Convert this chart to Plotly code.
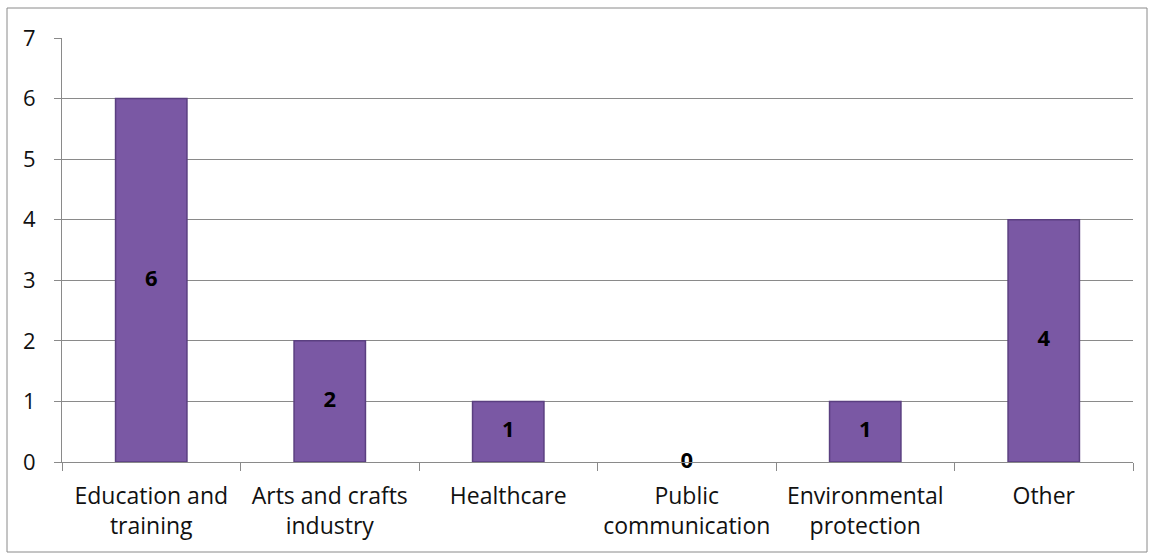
import plotly.graph_objects as go

categories = ["Education and<br>training", "Arts and crafts<br>industry", "Healthcare",
              "Public<br>communication", "Environmental<br>protection", "Other"]
values = [6, 2, 1, 0, 1, 4]
y_ticks = [0, 1, 2, 3, 4, 5, 6, 7]

FONT = "'Open Sans', Lato, sans-serif"

fig = go.Figure()
fig.add_trace(go.Bar(
    x=categories, y=values,
    marker=dict(color="#7A58A4",
                line=dict(color="#5A3F80", width=[1.5 if v > 0 else 0 for v in values])),
    width=0.4, hoverinfo="skip", showlegend=False,
))
fig.add_trace(go.Scatter(
    x=categories, y=[v / 2 for v in values], mode="text",
    text=[str(v) for v in values],
    textfont=dict(family=FONT, size=22, color="black", weight="bold"),
    showlegend=False, hoverinfo="skip", cliponaxis=False,
))

fig.update_layout(
    width=1154, height=557,
    margin=dict(l=62, r=21, t=38, b=95),
    paper_bgcolor="white", plot_bgcolor="white",
    font=dict(family=FONT, size=23, color="#111111"),
    bargap=0.6,
    xaxis=dict(
        type="category", tickson="boundaries", ticks="outside", ticklen=8,
        tickcolor="#8a8a8a", showline=True, linecolor="#8a8a8a", linewidth=1,
        showgrid=False, tickfont=dict(size=23), ticklabelstandoff=13,
    ),
    yaxis=dict(
        range=[0, 7], tickvals=y_ticks, ticks="outside", ticklen=7,
        tickcolor="#8a8a8a", showline=True, linecolor="#8a8a8a",
        showgrid=True, gridcolor="#8a8a8a", gridwidth=1, zeroline=False,
        tickfont=dict(size=22), ticklabelstandoff=14,
    ),
    shapes=[dict(type="rect", xref="paper", yref="paper",
                 x0=-55 / 1071, x1=1085 / 1071, y0=-90 / 424, y1=454 / 424,
                 line=dict(color="#8a8a8a", width=1), fillcolor="rgba(0,0,0,0)")],
)

fig.write_html("out.html")
